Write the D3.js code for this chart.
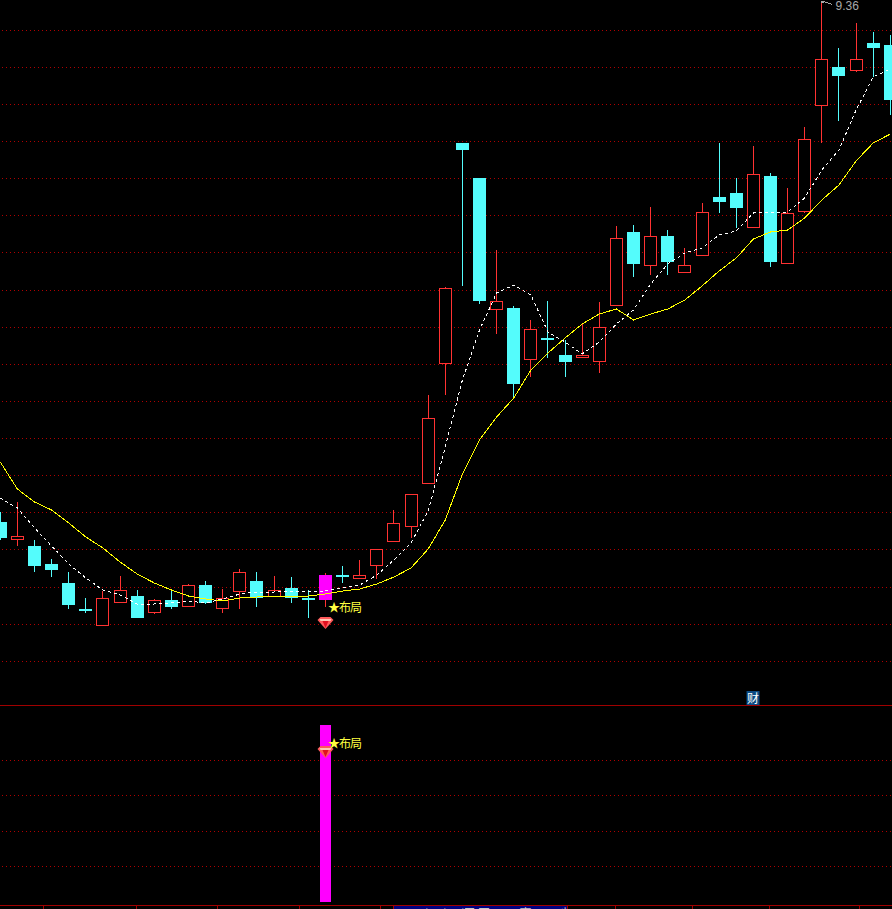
<!DOCTYPE html>
<html>
<head>
<meta charset="utf-8">
<style>html,body{margin:0;padding:0;background:#000;overflow:hidden}svg{display:block}</style>
<script src="https://cdn.jsdelivr.net/npm/d3@7"></script>
</head>
<body>
<script>
const opens = [4.16,3.99,3.92,3.74,3.55,3.29,3.13,3.36,3.42,3.26,3.38,3.32,3.53,3.30,3.47,3.57,3.42,3.50,3.40,3.39,3.63,3.60,3.73,3.97,4.12,4.55,5.75,7.95,7.60,6.29,6.30,5.79,6.00,5.83,5.81,5.77,6.33,7.06,6.73,7.02,6.66,6.83,7.41,7.45,7.11,7.62,6.75,7.27,8.33,8.71,8.68,8.95,8.93];
const closes = [4.00,4.02,3.72,3.68,3.33,3.27,3.40,3.48,3.20,3.38,3.31,3.53,3.35,3.40,3.66,3.40,3.48,3.40,3.38,3.63,3.61,3.63,3.89,4.15,4.44,5.20,6.50,7.88,6.37,6.37,5.54,6.09,5.98,5.76,5.83,6.11,7.00,6.74,7.02,6.76,6.73,7.26,7.36,7.30,7.64,6.76,7.25,7.99,8.79,8.62,8.79,8.90,8.38];
const highs = [4.26,4.36,3.98,3.79,3.66,3.40,3.47,3.62,3.48,3.39,3.48,3.54,3.57,3.49,3.69,3.66,3.62,3.61,3.48,3.65,3.72,3.78,3.89,4.28,4.44,5.43,6.51,7.95,7.60,6.88,6.32,6.18,6.37,5.98,6.15,6.36,7.12,7.13,7.31,7.08,6.90,7.35,7.95,7.60,7.92,7.65,7.50,8.11,9.36,8.90,9.15,9.06,9.03];
const lows = [3.98,3.92,3.66,3.61,3.29,3.25,3.12,3.35,3.20,3.24,3.29,3.31,3.34,3.25,3.29,3.31,3.42,3.35,3.20,3.31,3.55,3.59,3.59,3.96,4.00,4.55,5.43,6.52,6.34,6.04,5.41,5.61,5.80,5.61,5.81,5.65,6.33,6.61,6.63,6.63,6.65,6.82,7.25,7.10,7.11,6.71,6.75,7.25,7.95,8.17,8.66,8.61,8.23];
const maFast = [4.40,4.30,4.10,3.92,3.74,3.60,3.48,3.43,3.34,3.34,3.35,3.37,3.35,3.39,3.44,3.46,3.46,3.47,3.46,3.47,3.50,3.53,3.63,3.78,3.95,4.27,4.91,5.58,6.08,6.45,6.53,6.43,6.06,5.96,5.84,5.96,6.14,6.28,6.54,6.74,6.85,6.90,7.03,7.07,7.25,7.26,7.26,7.40,7.68,7.88,8.28,8.61,8.69];
const maSlow = [4.76,4.49,4.36,4.28,4.15,4.01,3.90,3.76,3.64,3.55,3.48,3.42,3.39,3.37,3.40,3.41,3.42,3.41,3.42,3.44,3.47,3.49,3.54,3.61,3.70,3.89,4.18,4.64,4.98,5.21,5.40,5.68,5.85,6.00,6.14,6.24,6.29,6.18,6.24,6.29,6.38,6.52,6.67,6.80,6.99,7.06,7.08,7.20,7.38,7.53,7.77,7.95,8.04];
const priceGrid = [9.08,8.71,8.34,7.97,7.60,7.23,6.86,6.48,6.11,5.74,5.37,5.00,4.63,4.255,3.885,3.51,3.135,2.77];
const signalGrid = [0.2,0.4,0.6,0.8];
const signalIndex = 19;
const signalValue = 1;
const signalLabel = "★布局";
const peakIndex = 48;
const peakLabel = "9.36";
const badgeIndex = 43.6;
const badgeLabel = "财";
const axisTicks = [2.48,7.96,12.67,17.45,22.2,35.92,40.42,44.92,50.18];
const infoBar = "2018/05/16/三 开:6.12 高:6.28 收:6.20";

const W = 892, H = 909;
const RED = "#ff3232", CYAN = "#54fcfc", GRID = "#b00000", LINE = "#a00000";
const x = d3.scaleLinear().domain([0, 52]).range([0.25, 890.3]);
const y = d3.scaleLinear().domain([9.38, 2.33]).range([0, 705]);
const ySig = d3.scaleLinear().domain([0, 1]).range([902, 725]);
const px = i => Math.floor(x(i));
const py = v => Math.round(y(v));
const svg = d3.select("body").append("svg").attr("width", W).attr("height", H)
  .style("background", "#000");

// grids
const hline = (sel, ys) => sel.selectAll("line").data(ys).join("line")
  .attr("x1", 2).attr("x2", W)
  .attr("y1", d => d).attr("y2", d => d)
  .attr("stroke", GRID).attr("stroke-dasharray", "1,3").attr("shape-rendering", "crispEdges");
hline(svg.append("g"), priceGrid.map(p => Math.floor(y(p)) + 0.5));
hline(svg.append("g"), signalGrid.map(v => Math.floor(ySig(v)) + 0.5));

// separator and bottom axis
svg.append("line").attr("x1", 0).attr("x2", W).attr("y1", 705.5).attr("y2", 705.5)
  .attr("stroke", LINE).attr("shape-rendering", "crispEdges");
svg.append("rect").attr("x", 394).attr("y", 906).attr("width", 174).attr("height", 3).attr("fill", "#000080");
svg.append("clipPath").attr("id", "strip").append("rect").attr("x", 394).attr("y", 906).attr("width", 174).attr("height", 3);
svg.append("text").attr("clip-path", "url(#strip)").attr("x", 396).attr("y", 917.5)
  .attr("font-family", "Noto Sans CJK SC").attr("font-size", 12).attr("fill", "#c8c8c8").text(infoBar);
const axis = d3.axisBottom(x).tickValues(axisTicks).tickFormat("").tickSize(4).tickSizeOuter(0);
const axG = svg.append("g").attr("transform", "translate(0,905)").call(axis);
axG.selectAll("path").remove();
axG.selectAll("line").attr("stroke", LINE).attr("shape-rendering", "crispEdges");
svg.append("line").attr("x1", 0).attr("x2", W).attr("y1", 905.5).attr("y2", 905.5)
  .attr("stroke", LINE).attr("shape-rendering", "crispEdges");
[394, 568].forEach(v => svg.append("line").attr("x1", v - 0.5).attr("x2", v - 0.5).attr("y1", 905).attr("y2", 909)
  .attr("stroke", LINE).attr("shape-rendering", "crispEdges"));

// candles
const idx = d3.range(opens.length);
const isUp = i => closes[i] >= opens[i];
const candles = svg.append("g").attr("shape-rendering", "crispEdges");
const g = candles.selectAll("g").data(idx).join("g");
g.append("line")
  .attr("x1", i => px(i) + 0.5).attr("x2", i => px(i) + 0.5)
  .attr("y1", i => py(highs[i])).attr("y2", i => py(lows[i]))
  .attr("stroke", i => isUp(i) ? RED : CYAN);
g.append("rect")
  .attr("x", i => isUp(i) ? px(i) - 5.5 : px(i) - 6)
  .attr("y", i => (isUp(i) ? py(closes[i]) : py(opens[i])) + (isUp(i) ? 0.5 : 0))
  .attr("width", i => isUp(i) ? 12 : 13)
  .attr("height", i => Math.max(1, Math.abs(py(closes[i]) - py(opens[i]))))
  .attr("fill", i => i === signalIndex ? "#ff00ff" : (isUp(i) ? "#000" : CYAN))
  .attr("stroke", i => i === signalIndex ? "#ff00ff" : (isUp(i) ? RED : "none"));

// moving averages
const ln = d3.line().x((d, i) => x(i)).y(d => y(d));
svg.append("path").attr("d", ln(maSlow)).attr("fill", "none").attr("stroke", "#ffff00")
  .attr("shape-rendering", "crispEdges");
svg.append("path").attr("d", ln(maFast)).attr("fill", "none").attr("stroke", "#ffffff")
  .attr("stroke-dasharray", "3,3").attr("shape-rendering", "crispEdges");

// lower panel signal bar
svg.append("rect").attr("x", px(signalIndex) - 5).attr("y", ySig(signalValue))
  .attr("width", 11).attr("height", ySig(0) - ySig(signalValue)).attr("fill", "#ff00ff");

// signal markers
function marker(cx, baseline, gemY) {
  const gem = svg.append("g").attr("transform", `translate(${cx + 0.5},${gemY})`);
  gem.append("path").attr("d", "M-8,-3 L-5,-6 L5,-6 L8,-3 L0,6 Z").attr("fill", "#ff5a5a");
  gem.append("path").attr("d", "M-6,-4 L6,-4 L5,-2 L-5,-2 Z").attr("fill", "#ffc8b4");
  gem.append("path").attr("d", "M-3,-2 L3,-2 L0,5 Z").attr("fill", "#e01020");
  svg.append("text").attr("x", cx + 3).attr("y", baseline).attr("letter-spacing", "-1")
    .attr("font-family", "Noto Sans CJK SC").attr("font-size", 12).attr("fill", "#ffff40").text(signalLabel);
}
marker(px(signalIndex), 612, 623);
marker(px(signalIndex), 748, 752);

// peak flag
const peakX = px(peakIndex) + 0.5;
svg.append("path").attr("d", `M${peakX},1 L${peakX + 11},4.5 M${peakX},3 L${peakX + 4},1.5`)
  .attr("fill", "none").attr("stroke", "#a8a8a8").attr("shape-rendering", "crispEdges");
svg.append("text").attr("x", peakX + 14).attr("y", 10)
  .attr("font-family", "Liberation Sans").attr("font-size", 12).attr("fill", "#a8a8a8").text(peakLabel);

// badge
svg.append("rect").attr("x", x(badgeIndex)).attr("y", 691).attr("width", 13).attr("height", 14).attr("fill", "#0a4a82");
svg.append("text").attr("x", x(badgeIndex) + 0.5).attr("y", 702.5)
  .attr("font-family", "Noto Sans CJK SC").attr("font-size", 12).attr("fill", "#ffffff").text(badgeLabel);
</script>
</body>
</html>
